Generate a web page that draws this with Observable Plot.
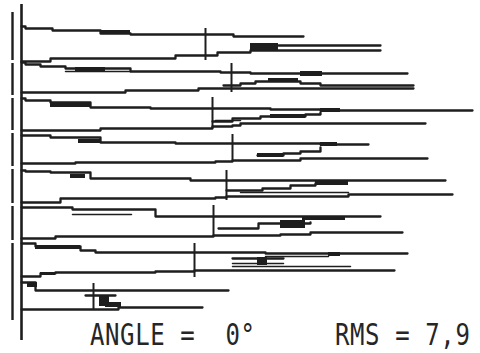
<!DOCTYPE html>
<html>
<head>
<meta charset="utf-8">
<script src="https://cdn.jsdelivr.net/npm/d3@7"></script>
<script src="https://cdn.jsdelivr.net/npm/@observablehq/plot@0.6"></script>
<style>
  html, body { margin: 0; padding: 0; background: #fff; }
  #wrap { position: relative; width: 480px; height: 353px; }
  .cap { position: absolute; top: 318px; font-family: "DejaVu Sans Mono", monospace; font-size: 24px; line-height: 28px;
         letter-spacing: 0.6px; color: #262626; white-space: pre; transform: scaleY(1.22); transform-origin: left top; }
</style>
</head>
<body>
<div id="wrap"></div>
<script>
// ---- data (trace index, value along x, trace level along y) ----
const groups = [1, 2, 3, 4, 5, 6, 7, 8];

const upperTraces = [
  [[0,26],[4,28],[31,30],[79,33],[109,34],[212,36],[282,36]],
  [[0,62],[4,64],[19,66],[44,68],[109,71],[199,72],[229,73],[386,73]],
  [[0,98],[4,100],[29,102],[69,107],[129,108],[249,109],[299,110],[451,110]],
  [[0,135],[29,137],[79,142],[154,143],[299,144],[347,144]],
  [[0,170],[4,171],[29,172],[69,178],[169,180],[424,180]],
  [[0,207],[51,209],[134,216],[359,216]],
  [[0,243],[14,246],[59,250],[74,252],[244,253],[386,253]],
  [[0,282],[14,290],[207,290]]
];

const middleTraces = [
  [[257,45],[359,45]],
  [[202,85],[219,83],[234,81],[279,83],[299,85],[392,85]],
  [[191,121],[211,118],[239,116],[284,114],[299,112]],
  [[236,155],[262,153],[279,151],[299,147]],
  [[205,190],[241,188],[269,185],[294,183]],
  [[197,228],[237,223],[289,222]],
  [[211,258],[262,258]],
  [[64,295],[94,295]]
];

const lowerTraces = [
  [[0,61],[29,58],[154,55],[196,52],[229,50],[359,50]],
  [[0,92],[104,90],[177,88],[392,88]],
  [[0,130],[79,128],[191,126],[211,125],[219,123],[404,123]],
  [[0,163],[54,162],[194,161],[211,160],[279,158],[406,158]],
  [[0,202],[39,198],[194,197],[205,196],[327,194],[431,194]],
  [[0,238],[34,236],[192,235],[259,234],[289,232],[381,232]],
  [[0,276],[19,273],[34,272],[134,271],[173,270],[373,270]],
  [[0,309],[72,309],[97,307],[181,307]]
];

// thin secondary strokes (doubled trace edges)
const secondaryTraces = [
  [[44,71],[109,71]],
  [[194,120],[219,120]],
  [[219,192],[327,192]],
  [[51,214],[110,214]],
  [[244,256],[307,256]],
  [[211,263],[262,263]],
  [[211,266],[329,266]]
];

// dense (filled) parts of traces: x1, x2, y1, y2
const denseParts = [
  [79,109,30,34],[229,257,43,50],
  [54,84,67,71],[279,301,71,76],[247,277,78,82],
  [29,69,102,107],[299,319,108,112],[249,284,114,118],
  [57,79,139,143],[299,316,142,146],[236,262,153,157],
  [49,64,174,178],[294,327,181,185],
  [281,324,216,220],[259,284,220,228],
  [14,59,245,249],[307,319,252,256],[236,246,257,265],[19,34,272,275],
  [6,16,282,287],[78,88,296,306],[84,100,302,307]
];

// median markers
const markerX  = [184, 210, 191, 211, 205, 192, 173, 72];
const markerY1 = [28, 63, 97, 134, 170, 205, 243, 283];
const markerY2 = [60, 92, 128, 162, 200, 237, 277, 310];

// frame
const axisSpan = [4, 340];
const outerSegments = [[12,60],[63,95],[98,130],[133,166],[169,203],[206,240],[243,320]];
const outerOffset = -9;

const captionLeft = "ANGLE =  0°";
const captionRight = "RMS = 7,9";

// ---- build tables ----
function flatten(traces, kind) {
  const rows = [];
  traces.forEach((tr, i) => tr.forEach(([x, y]) => rows.push({key: kind + i, x, y})));
  return rows;
}
const mainRows = [...flatten(upperTraces, "u"), ...flatten(middleTraces, "m"), ...flatten(lowerTraces, "l")];
const secRows = flatten(secondaryTraces, "s");
const rects = denseParts.map(([x1, x2, y1, y2]) => ({x1, x2, y1, y2}));
const markers = groups.map((g, i) => ({x: markerX[i], y1: markerY1[i], y2: markerY2[i]}));
const outer = outerSegments.map(([y1, y2]) => ({x: outerOffset, y1, y2}));

const ink = "#1e1e1e";
const chart = Plot.plot({
  width: 480,
  height: 353,
  margin: 0,
  x: {domain: [-21, 459], axis: null},
  y: {domain: [0, 353], range: [0, 353], axis: null},
  style: {background: "#fff"},
  marks: [
    Plot.ruleX([0], {y1: axisSpan[0], y2: axisSpan[1], stroke: ink, strokeWidth: 2.6}),
    Plot.ruleX(outer, {x: "x", y1: "y1", y2: "y2", stroke: ink, strokeWidth: 2.4}),
    Plot.line(mainRows, {x: "x", y: "y", z: "key", curve: "step-after", stroke: ink, strokeWidth: 2.3}),
    Plot.line(secRows, {x: "x", y: "y", z: "key", stroke: ink, strokeWidth: 1.5}),
    Plot.rect(rects, {x1: "x1", x2: "x2", y1: "y1", y2: "y2", fill: ink}),
    Plot.ruleX(markers, {x: "x", y1: "y1", y2: "y2", stroke: ink, strokeWidth: 2})
  ]
});

const wrap = document.getElementById("wrap");
wrap.appendChild(chart);
const c1 = document.createElement("div");
c1.className = "cap"; c1.style.left = "90px"; c1.textContent = captionLeft;
const c2 = document.createElement("div");
c2.className = "cap"; c2.style.left = "335px"; c2.textContent = captionRight;
wrap.appendChild(c1); wrap.appendChild(c2);
</script>
</body>
</html>
